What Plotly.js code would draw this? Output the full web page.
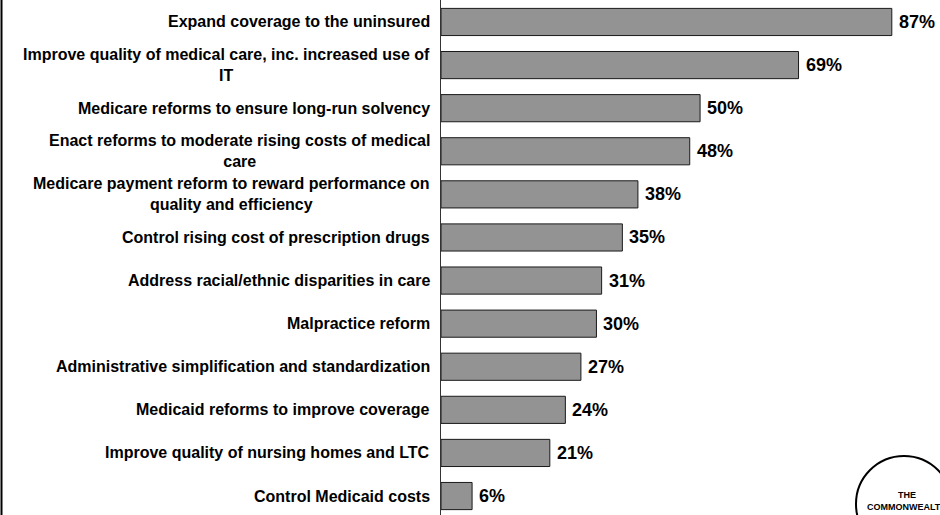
<!DOCTYPE html>
<html>
<head>
<meta charset="utf-8">
<script src="https://cdn.plot.ly/plotly-3.0.1.min.js"></script>
<style>html,body{margin:0;padding:0;background:#fff;}#chart{width:940px;height:515px;}</style>
</head>
<body>
<div id="chart"></div>
<script>
const categories = [
  "Expand coverage to the uninsured",
  "Improve quality of medical care, inc. increased use of<br>IT",
  "Medicare reforms to ensure long-run solvency",
  "Enact reforms to moderate rising costs of medical<br>care",
  "Medicare payment reform to reward performance on<br>quality and efficiency",
  "Control rising cost of prescription drugs",
  "Address racial/ethnic disparities in care",
  "Malpractice reform",
  "Administrative simplification and standardization",
  "Medicaid reforms to improve coverage",
  "Improve quality of nursing homes and LTC",
  "Control Medicaid costs"
];
const values = [87, 69, 50, 48, 38, 35, 31, 30, 27, 24, 21, 6];
const valueLabels = values.map(v => v + "%");
const logoText = "THE<br>COMMONWEALTH<br>FUND";

const W = 940, H = 515, L = 441;
const px = p => (p - L) / (W - L);
const py = p => 1 - p / H;

const annotations = [];
categories.forEach((c, i) => {
  annotations.push({
    x: 0, xref: 'paper', y: c, yref: 'y',
    text: c, showarrow: false, xanchor: 'right', yanchor: 'middle',
    align: 'center', xshift: -9,
    font: {family: 'Liberation Sans, Arial, sans-serif', size: 16, color: '#000', weight: 'bold'}
  });
  annotations.push({
    x: values[i], xref: 'x', y: c, yref: 'y',
    text: valueLabels[i], showarrow: false, xanchor: 'left', yanchor: 'middle',
    xshift: 5,
    font: {family: 'Liberation Sans, Arial, sans-serif', size: 18, color: '#000', weight: 'bold'}
  });
});
annotations.push({
  x: px(907), xref: 'paper', y: py(506), yref: 'paper',
  text: logoText, showarrow: false, xanchor: 'center', yanchor: 'middle',
  align: 'center',
  font: {family: 'Liberation Sans, Arial, sans-serif', size: 9, color: '#000', weight: 'bold'}
});

const trace = {
  type: 'bar', orientation: 'h',
  x: values, y: categories,
  marker: {color: '#939393', line: {color: '#1a1a1a', width: 1}},
  hoverinfo: 'none'
};

const layout = {
  width: W, height: H,
  margin: {l: L, r: 0, t: 0, b: 0, pad: 0},
  paper_bgcolor: '#fff', plot_bgcolor: '#fff',
  showlegend: false,
  bargap: 0.37,
  xaxis: {range: [0, 96.3], visible: false, fixedrange: true},
  yaxis: {
    type: 'category', range: [11.44, -0.51],
    showticklabels: false, ticks: '', showgrid: false, zeroline: false,
    showline: true, linecolor: '#333', linewidth: 1, fixedrange: true
  },
  annotations: annotations,
  shapes: [
    {type: 'line', xref: 'paper', yref: 'paper', x0: px(1.5), x1: px(1.5), y0: 0, y1: 1,
     line: {color: '#000', width: 2}},
    {type: 'circle', xref: 'paper', yref: 'paper', x0: px(856), x1: px(952), y0: py(456), y1: py(552),
     line: {color: '#000', width: 2}}
  ]
};

Plotly.newPlot('chart', [trace], layout, {displayModeBar: false, staticPlot: true});
</script>
</body>
</html>
